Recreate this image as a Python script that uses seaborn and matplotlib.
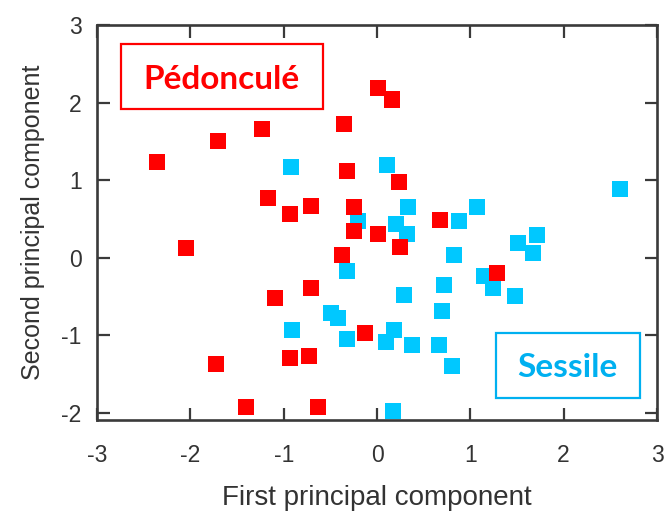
import pandas as pd
import numpy as np
import matplotlib.pyplot as plt
import seaborn as sns
from matplotlib.patches import Rectangle

# sessile points (drawn first, red goes on top)
sessile_x = [-0.92, 0.11, -0.20, 0.33, 0.20, 0.32, -0.32, 0.29, -0.49, -0.42,
             -0.91, -0.32, 0.18, 0.10, 0.37, 0.72, 0.70, 0.66, 2.60, 1.07,
             0.88, 0.82, 1.51, 1.71, 1.67, 1.15, 1.24, 1.48, 0.80, 0.17]
sessile_y = [1.17, 1.19, 0.48, 0.66, 0.44, 0.31, -0.17, -0.48, -0.71, -0.77,
             -0.93, -1.04, -0.93, -1.08, -1.12, -0.35, -0.69, -1.12, 0.89, 0.66,
             0.48, 0.04, 0.19, 0.30, 0.06, -0.24, -0.39, -0.49, -1.40, -1.98]

# pedunculate points
ped_x = [-2.36, -1.70, -1.23, -0.35, 0.01, 0.16, -0.32, 0.24, -1.17, -0.93,
         -0.71, -0.25, -0.25, 0.01, 0.25, 0.68, -2.05, -0.37, -1.09, -0.71,
         -0.13, -0.93, -0.73, -1.72, -1.40, -0.63, 1.29]
ped_y = [1.24, 1.50, 1.66, 1.73, 2.19, 2.04, 1.12, 0.98, 0.77, 0.57,
         0.67, 0.66, 0.35, 0.31, 0.14, 0.49, 0.13, 0.03, -0.52, -0.39,
         -0.97, -1.29, -1.26, -1.37, -1.92, -1.92, -0.19]

x_ticks = [-3, -2, -1, 0, 1, 2, 3]
y_ticks = [-2, -1, 0, 1, 2, 3]

df = pd.DataFrame({
    'pc1': sessile_x + ped_x,
    'pc2': sessile_y + ped_y,
    'group': ['Sessile'] * len(sessile_x) + ['Pedoncule'] * len(ped_x),
})

sns.set_style("ticks")
plt.rcParams['font.family'] = ['Liberation Sans', 'DejaVu Sans']
plt.rcParams['axes.unicode_minus'] = False

RED = '#FF0000'
CYAN = '#00C8FF'
BLUE = '#00B0F0'
AX_COLOR = '#3a3a3a'

fig = plt.figure(figsize=(6.65, 5.22), dpi=100)
ax = fig.add_axes([0.1459, 0.1954, 0.8421, 0.7567])

sns.scatterplot(data=df, x='pc1', y='pc2', hue='group',
                palette={'Sessile': CYAN, 'Pedoncule': RED},
                marker='s', s=133, linewidth=0, legend=False, ax=ax, zorder=3)

ax.set_xlim(-3, 3)
ax.set_ylim(-2.09, 3)
ax.set_xticks(x_ticks)
ax.set_yticks(y_ticks)
ax.tick_params(direction='in', top=True, right=True, length=9, width=1.6,
               color=AX_COLOR, labelsize=16.5, labelcolor='#333333')
ax.tick_params(axis='x', pad=17)
ax.tick_params(axis='y', pad=11)
for sp in ax.spines.values():
    sp.set_color(AX_COLOR)
    sp.set_linewidth(1.9)

ax.set_xlabel('First principal component', fontsize=20, color='#333333', labelpad=13)
ax.set_ylabel('Second principal component', fontsize=18, color='#333333', labelpad=12)

# annotation boxes
ax.add_patch(Rectangle((0.043, 0.787), 0.361, 0.165, transform=ax.transAxes,
                       fill=False, edgecolor=RED, linewidth=1.6, zorder=4))
ax.text(0.222, 0.838, 'Pédonculé', transform=ax.transAxes, ha='center', va='baseline',
        fontsize=24, fontweight='bold', color=RED, family=['Lato', 'DejaVu Sans'])

ax.add_patch(Rectangle((0.7125, 0.0557), 0.2575, 0.1643, transform=ax.transAxes,
                       fill=False, edgecolor=BLUE, linewidth=1.6, zorder=4))
ax.text(0.840, 0.109, 'Sessile', transform=ax.transAxes, ha='center', va='baseline',
        fontsize=24, fontweight='bold', color=BLUE, family=['Lato', 'DejaVu Sans'])

fig.savefig('out.png', dpi=100)
plt.close()
